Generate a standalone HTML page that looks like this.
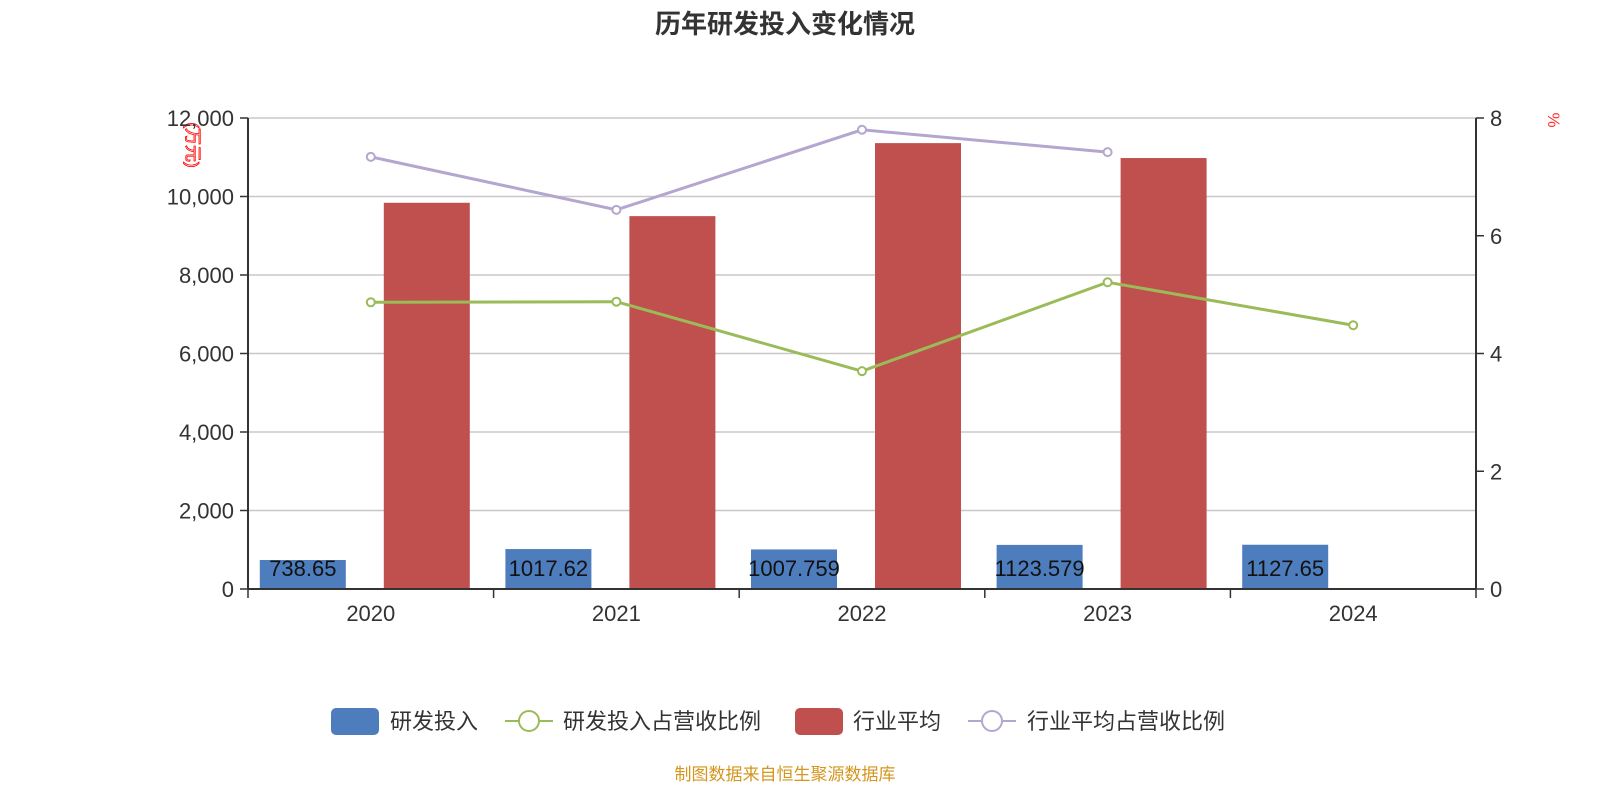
<!DOCTYPE html>
<html><head><meta charset="utf-8"><style>
body{margin:0;background:#fff;}
svg{display:block;font-family:"Liberation Sans","Noto Sans CJK SC",sans-serif;}
</style></head><body>
<svg id="c" width="1600" height="800">
<text x="785" y="33" text-anchor="middle" font-size="26" font-weight="bold" fill="#333">历年研发投入变化情况</text>
<text transform="translate(187,145) rotate(90)" text-anchor="middle" font-size="17" fill="#fff" stroke="#f00" stroke-width="0.8">(万元)</text>
<text transform="translate(1548,120) rotate(90)" text-anchor="middle" font-size="17" fill="#f33">%</text>
<g id="grid"></g><g id="bars"></g><g id="lines"></g><g id="axes"></g>
<g font-size="22" fill="#333">
<g><rect x="331" y="708" width="48" height="27" rx="5" fill="#4e7dbd"/><text x="390" y="729">研发投入</text></g>
<g><line x1="505" y1="721" x2="553" y2="721" stroke="#9bbb59" stroke-width="2"/><circle cx="529" cy="721" r="10" fill="#fff" stroke="#9bbb59" stroke-width="2"/><text x="563" y="729">研发投入占营收比例</text></g>
<g><rect x="795" y="708" width="48" height="27" rx="5" fill="#c0504d"/><text x="853" y="729">行业平均</text></g>
<g><line x1="968" y1="721" x2="1016" y2="721" stroke="#b3a7cf" stroke-width="2"/><circle cx="992" cy="721" r="10" fill="#fff" stroke="#b3a7cf" stroke-width="2"/><text x="1027" y="729">行业平均占营收比例</text></g>
</g>
<text x="785" y="780" text-anchor="middle" font-size="17" fill="#d4961e">制图数据来自恒生聚源数据库</text>
</svg>
<script>
const categories=["2020","2021","2022","2023","2024"];
const rdValues=[738.65,1017.62,1007.759,1123.579,1127.65];
const rdLabels=["738.65","1017.62","1007.759","1123.579","1127.65"];
const industryValues=[9840,9500,11360,10980,null];
const rdRatio=[4.87,4.88,3.70,5.21,4.48];
const industryRatio=[7.34,6.44,7.80,7.42,null];
const leftTicks=[0,2000,4000,6000,8000,10000,12000];
const leftTickLabels=["0","2,000","4,000","6,000","8,000","10,000","12,000"];
const rightTicks=[0,2,4,6,8];
const NS="http://www.w3.org/2000/svg";
const L=248,R=1476,T=118,B=589;
const bw=(R-L)/categories.length;
const yL=v=>B-(v/12000)*(B-T);
const yR=v=>B-(v/8)*(B-T);
const xC=i=>L+bw*(i+0.5);
function mk(tag,attrs,parent,txt){const e=document.createElementNS(NS,tag);for(const k in attrs)e.setAttribute(k,attrs[k]);if(txt!==undefined)e.textContent=txt;document.getElementById(parent).appendChild(e);return e;}
leftTicks.forEach((t,i)=>{
 const g=mk('line',{x1:L,x2:R,y1:yL(t),y2:yL(t),stroke:'#c8c8c8','stroke-width':1.5},'grid');
 
 
 const tk=mk('line',{x1:L-8,x2:L,y1:yL(t),y2:yL(t),stroke:'#333','stroke-width':1.5},'axes');
 
 
 const lb=mk('text',{x:L-14,y:yL(t)+8,'text-anchor':'end','font-size':22,fill:'#333'},'axes',leftTickLabels[i]);
 
 
});
rightTicks.forEach(t=>{
 const tk=mk('line',{x1:R,x2:R+8,y1:yR(t),y2:yR(t),stroke:'#333','stroke-width':1.5},'axes');
 
 
 const lb=mk('text',{x:R+14,y:yR(t)+8,'font-size':22,fill:'#333'},'axes',String(t));
 
 
});
let a=mk('line',{x1:L,x2:L,y1:T,y2:B,stroke:'#333','stroke-width':2},'axes');


a=mk('line',{x1:R,x2:R,y1:T,y2:B,stroke:'#333','stroke-width':2},'axes');


a=mk('line',{x1:L,x2:R,y1:B,y2:B,stroke:'#333','stroke-width':2},'axes');


for(let i=0;i<=categories.length;i++){
 const tk=mk('line',{x1:L+bw*i,x2:L+bw*i,y1:B,y2:B+9,stroke:'#333','stroke-width':1.5},'axes');
 
 
}
categories.forEach((c,i)=>{
 const lb=mk('text',{x:xC(i),y:B+32,'text-anchor':'middle','font-size':22,fill:'#333'},'axes',c);
 
 
 const w=86;
 const b1=mk('rect',{x:xC(i)-w-25,y:yL(rdValues[i]),width:w,height:B-yL(rdValues[i]),fill:'#4e7dbd'},'bars');
 
 
 const t=mk('text',{x:xC(i)-w/2-25,y:B-13,'text-anchor':'middle','font-size':22,fill:'#111'},'bars',rdLabels[i]);
 
 
 if(industryValues[i]!=null){
  const b2=mk('rect',{x:xC(i)+13,y:yL(industryValues[i]),width:w,height:B-yL(industryValues[i]),fill:'#c0504d'},'bars');
  
  
 }
});
function series(vals,color,name){
 const pts=vals.map((v,i)=>v==null?null:[xC(i),yR(v)]).filter(p=>p);
 const pl=mk('polyline',{points:pts.map(p=>p.join(',')).join(' '),fill:'none',stroke:color,'stroke-width':3},'lines');
 
 
 pts.forEach(p=>{
  const c=mk('circle',{cx:p[0],cy:p[1],r:4,fill:'#fff',stroke:color,'stroke-width':2},'lines');
  
  
 });
}
series(industryRatio,'#b3a7cf','industry-ratio');
series(rdRatio,'#9bbb59','rd-ratio');
</script>
</body></html>
